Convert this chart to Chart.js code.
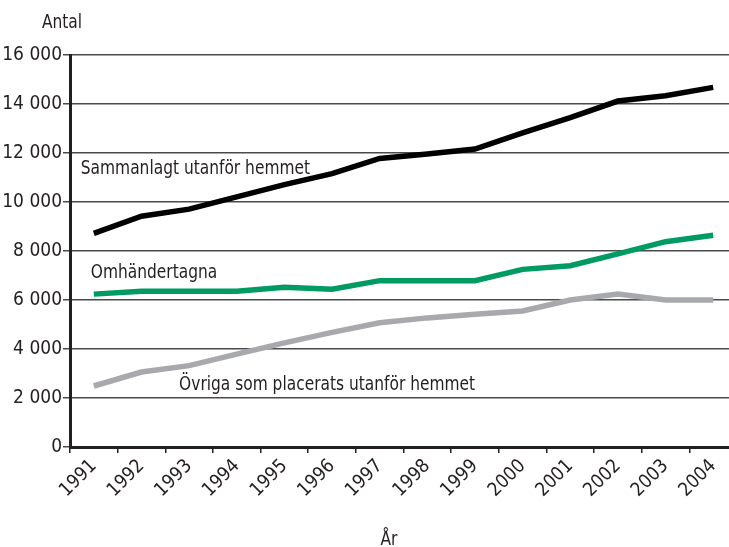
<!DOCTYPE html>
<html>
<head>
<meta charset="utf-8">
<script src="https://cdn.jsdelivr.net/npm/chart.js@4/dist/chart.umd.min.js"></script>
<style>
  html, body { margin: 0; padding: 0; background: #fff; overflow: hidden; }
  #wrap { position: absolute; left: 0; top: 0; width: 760px; height: 547px; }
</style>
</head>
<body>
<div id="wrap"><canvas id="chart" width="760" height="547"></canvas></div>
<script>
const years = ['1991', '1992', '1993', '1994', '1995', '1996', '1997', '1998', '1999', '2000', '2001', '2002', '2003', '2004'];
const sammanlagt = [8720, 9420, 9710, 10210, 10710, 11160, 11780, 11960, 12160, 12820, 13440, 14120, 14340, 14680];
const omhandertagna = [6240, 6360, 6360, 6360, 6520, 6440, 6790, 6790, 6790, 7250, 7400, 7880, 8380, 8640];
const ovriga = [2490, 3060, 3320, 3790, 4250, 4680, 5070, 5270, 5420, 5550, 6000, 6240, 6000, 6000];
const yTicks = [0, 2000, 4000, 6000, 8000, 10000, 12000, 14000, 16000];

const seriesNames = ['Sammanlagt utanför hemmet', 'Omhändertagna', 'Övriga som placerats utanför hemmet'];

const fontFamily = '"DejaVu Sans Condensed", "Liberation Sans Narrow", "Liberation Sans", sans-serif';
const textColor = '#231f20';

// line labels written inside the plot, anchored to category index / value
const lineLabels = [
    { text: seriesNames[0], idx: 0, value: 11160, dx: -13 },
    { text: seriesNames[1], idx: 0, value: 6880, dx: -3 },
    { text: seriesNames[2], idx: 2, value: 2330, dx: -10 }
];

// the original uses a condensed face, squeeze the drawn text a bit
const squeeze = 0.88;

function squeezedText(ctx, text, x, y, align) {
    const w = ctx.measureText(text).width * squeeze;
    let left = x;
    if (align === 'center') left = x - w / 2;
    ctx.save();
    ctx.translate(left, y);
    ctx.scale(squeeze, 1);
    ctx.fillText(text, 0, 0);
    ctx.restore();
}

const textPlugin = {
    id: 'textPlugin',
    afterDraw(chart) {
        const ctx = chart.ctx;
        const x = chart.scales.x;
        const y = chart.scales.y;
        const area = chart.chartArea;
        ctx.save();
        ctx.fillStyle = textColor;
        ctx.font = '19.5px ' + fontFamily;
        ctx.textBaseline = 'alphabetic';
        ctx.textAlign = 'left';
        lineLabels.forEach(l => {
            squeezedText(ctx, l.text, x.getPixelForValue(l.idx) + l.dx, y.getPixelForValue(l.value), 'left');
        });
        squeezedText(ctx, 'Antal', area.left - 8, area.top - 27, 'center');
        squeezedText(ctx, 'År', 389, 545, 'center');
        ctx.restore();
    }
};

const ctx = document.getElementById('chart').getContext('2d');
const chart = new Chart(ctx, {
    type: 'line',
    data: {
        labels: years,
        datasets: [
            { label: seriesNames[0], data: sammanlagt, borderColor: '#000000' },
            { label: seriesNames[1], data: omhandertagna, borderColor: '#009a63' },
            { label: seriesNames[2], data: ovriga, borderColor: '#a8a9ad' }
        ]
    },
    options: {
        responsive: false,
        animation: false,
        devicePixelRatio: 1,
        layout: { padding: { top: 55, right: 23, left: 0, bottom: 0 } },
        elements: {
            line: { borderWidth: 5.5, tension: 0, borderCapStyle: 'butt', borderJoinStyle: 'miter' },
            point: { radius: 0, hoverRadius: 0 }
        },
        plugins: {
            legend: { display: false },
            tooltip: { enabled: false }
        },
        scales: {
            x: {
                offset: true,
                grid: { offset: true, drawOnChartArea: false, tickLength: 6, color: textColor, lineWidth: 1.5 },
                border: { display: true, color: textColor, width: 3 },
                ticks: {
                    autoSkip: false, minRotation: 45, maxRotation: 45, padding: 2,
                    color: textColor, font: { family: fontFamily, size: 19 }
                },
                afterFit(scale) { scale.height = 100; }
            },
            y: {
                min: 0,
                max: 16000,
                afterBuildTicks(scale) { scale.ticks = yTicks.map(v => ({ value: v })); },
                grid: { color: '#4a4a4a', lineWidth: 1.5, tickLength: 7 },
                border: { display: true, color: textColor, width: 3 },
                ticks: {
                    padding: 1,
                    color: textColor,
                    font: { family: fontFamily, size: 19 },
                    callback: v => v === 0 ? '0' : String(v).replace(/\B(?=(\d{3})+(?!\d))/g, ' ')
                },
                afterFit(scale) { scale.width = 70; }
            }
        }
    },
    plugins: [textPlugin]
});
</script>
</body>
</html>
